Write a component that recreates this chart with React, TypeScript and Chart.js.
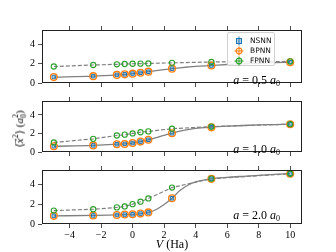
import React, { useEffect, useRef } from "react";
import { Chart, registerables } from "chart.js";
Chart.register(...registerables);

// ---- data ----
const vPoints = [-5, -2.5, -1, -0.5, 0, 0.5, 1, 2.5, 5, 10];
const vDense = [-5, -2.5, -1, -0.5, 0, 0.5, 1, 1.5, 2, 2.5, 3, 3.5, 4, 5, 6, 7, 8, 9, 10];
const xTicks = [-4, -2, 0, 2, 4, 6, 8, 10];
const yTicks = [0, 2, 4];
const panelLabels = ["0.5", "1.0", "2.0"];
const seriesNames = ["NSNN", "BPNN", "FPNN"];

// a = 0.5 a0
const nsnn05 = [0.62, 0.71, 0.84, 0.9, 0.98, 1.06, 1.17, 1.49, 1.82, 2.16];
const bpnn05 = [0.61, 0.71, 0.84, 0.9, 0.97, 1.06, 1.18, 1.49, 1.82, 2.15];
const fpnn05 = [1.71, 1.87, 1.94, 1.97, 2.0, 2.01, 2.03, 2.09, 2.18, 2.24];
const exact05 = [0.61, 0.71, 0.84, 0.9, 0.97, 1.06, 1.18, 1.29, 1.39, 1.49, 1.58, 1.66, 1.73, 1.82, 1.92, 1.99, 2.05, 2.11, 2.15];

// a = 1.0 a0
const nsnn10 = [0.62, 0.71, 0.84, 0.88, 0.97, 1.12, 1.32, 2.02, 2.67, 3.0];
const bpnn10 = [0.62, 0.71, 0.84, 0.87, 0.97, 1.12, 1.32, 2.02, 2.66, 3.0];
const fpnn10 = [1.03, 1.42, 1.78, 1.87, 2.0, 2.13, 2.22, 2.51, 2.74, 3.0];
const exact10 = [0.62, 0.71, 0.84, 0.88, 0.97, 1.12, 1.32, 1.56, 1.8, 2.02, 2.24, 2.41, 2.54, 2.68, 2.78, 2.86, 2.92, 2.96, 3.0];

// a = 2.0 a0
const nsnn20 = [0.83, 0.87, 0.92, 0.96, 0.99, 1.06, 1.18, 2.62, 4.6, 5.12];
const bpnn20 = [0.83, 0.87, 0.92, 0.96, 0.99, 1.06, 1.18, 2.62, 4.6, 5.12];
const fpnn20 = [1.37, 1.5, 1.69, 1.79, 2.02, 2.27, 2.6, 3.71, 4.62, 5.12];
const exact20 = [0.83, 0.87, 0.92, 0.96, 0.99, 1.06, 1.18, 1.48, 1.98, 2.62, 3.4, 3.95, 4.28, 4.6, 4.75, 4.86, 4.96, 5.05, 5.12];

const panels = [
  { nsnn: nsnn05, bpnn: bpnn05, fpnn: fpnn05, exact: exact05 },
  { nsnn: nsnn10, bpnn: bpnn10, fpnn: fpnn10, exact: exact10 },
  { nsnn: nsnn20, bpnn: bpnn20, fpnn: fpnn20, exact: exact20 },
];

// ---- layout ----
const W = 336;
const AREA_LEFT = 42;
const AREA_RIGHT = 302;
// [canvasTop, canvasHeight, topAxisH, bottomAxisH]
const geo = [
  [0, 92, 30, 5],
  [92, 69, 6, 6],
  [161, 91, 6, 28],
];

const BLUE = "#1f77b4";
const ORANGE = "#ff7f0e";
const GREEN = "#2ca02c";
const GREY = "#808080";
const TICK_FONT = { family: "'Liberation Serif', serif", size: 10 };

const fmt = (v: number | string) => {
  const n = Number(v);
  return n < 0 ? "\u2212" + Math.abs(n) : String(n);
};

const frame = {
  id: "frame",
  afterDraw(chart: any) {
    const { ctx, chartArea: a } = chart;
    ctx.save();
    ctx.strokeStyle = "#222";
    ctx.lineWidth = 1;
    ctx.strokeRect(Math.round(a.left) + 0.5, Math.round(a.top) + 0.5, Math.round(a.right - a.left) - 1, Math.round(a.bottom - a.top) - 1);
    ctx.restore();
  },
};

function Panel({ idx }: { idx: number }) {
  const ref = useRef<HTMLCanvasElement | null>(null);
  const [top, h, topH, botH] = geo[idx];
  useEffect(() => {
    const p = panels[idx];
    const pts = (arr: number[]) => vPoints.map((x, i) => ({ x, y: arr[i] }));
    const isBottom = idx === 2;
    const xAxis = (pos: string, showLabels: boolean, hgt: number) => ({
      type: "linear",
      position: pos,
      min: -5.75,
      max: 10.75,
      afterBuildTicks: (s: any) => {
        s.ticks = xTicks.map((v) => ({ value: v }));
      },
      afterFit: (s: any) => {
        s.height = hgt;
      },
      ticks: { display: showLabels, font: TICK_FONT, color: "#000", padding: 1, maxRotation: 0, callback: fmt },
      grid: { drawOnChartArea: false, drawTicks: true, tickLength: 4, color: "#222", lineWidth: 0.8 },
      border: { display: false },
    });
    const chart = new Chart(ref.current as HTMLCanvasElement, {
      type: "scatter",
      data: {
        datasets: [
          {
            label: "exact",
            data: vDense.map((x, i) => ({ x, y: p.exact[i] })),
            showLine: true,
            borderColor: GREY,
            borderWidth: 1.3,
            pointRadius: 0,
            cubicInterpolationMode: "monotone",
            order: 6,
          },
          {
            label: "ref",
            data: pts(p.fpnn),
            showLine: true,
            borderColor: GREY,
            borderWidth: 1.2,
            borderDash: [4, 2],
            pointRadius: 0,
            order: 5,
          },
          {
            label: seriesNames[0],
            data: pts(p.nsnn),
            pointStyle: "rect",
            pointRadius: 2.5,
            borderColor: BLUE,
            backgroundColor: "rgba(31,119,180,0.3)",
            borderWidth: 1,
            order: 3,
          },
          {
            label: seriesNames[1],
            data: pts(p.bpnn),
            pointStyle: "circle",
            pointRadius: 3.4,
            borderColor: ORANGE,
            backgroundColor: "rgba(0,0,0,0)",
            borderWidth: 1.3,
            order: 2,
          },
          {
            label: seriesNames[2],
            data: pts(p.fpnn),
            pointStyle: "circle",
            pointRadius: 2.6,
            borderColor: GREEN,
            backgroundColor: "rgba(0,0,0,0)",
            borderWidth: 1.1,
            order: 1,
          },
        ],
      },
      options: {
        animation: false,
        responsive: false,
        maintainAspectRatio: false,
        events: [],
        layout: { padding: { left: 0, right: W - AREA_RIGHT, top: 0, bottom: 0 } },
        plugins: { legend: { display: false }, tooltip: { enabled: false } },
        scales: {
          x: xAxis("bottom", isBottom, botH),
          x2: xAxis("top", false, topH),
          y: {
            type: "linear",
            min: 0,
            max: 5.5,
            afterBuildTicks: (s: any) => {
              s.ticks = yTicks.map((v) => ({ value: v }));
            },
            afterFit: (s: any) => {
              s.width = AREA_LEFT;
            },
            ticks: { font: TICK_FONT, color: "#000", padding: 3, callback: fmt },
            grid: { drawOnChartArea: false, drawTicks: true, tickLength: 4, color: "#222", lineWidth: 0.8 },
            border: { display: false },
          },
        } as any,
      } as any,
      plugins: [frame],
    } as any);
    return () => chart.destroy();
  }, [idx]);
  return (
    <canvas
      ref={ref}
      width={W}
      height={h}
      style={{ position: "absolute", left: 0, top, width: W, height: h, display: "block" }}
    />
  );
}

const serif = "'Liberation Serif', 'DejaVu Serif', serif";

function Marker({ kind, color }: { kind: string; color: string }) {
  return (
    <svg width={10} height={10} style={{ position: "absolute", left: 0, top: 0 }}>
      <line x1={5} y1={0.5} x2={5} y2={9.5} stroke={color} strokeWidth={1} />
      {kind === "rect" ? (
        <rect x={2.5} y={2.5} width={5} height={5} fill="rgba(31,119,180,0.35)" stroke={color} strokeWidth={1} />
      ) : (
        <>
          <line x1={0.5} y1={5} x2={9.5} y2={5} stroke={color} strokeWidth={1} />
          <circle cx={5} cy={5} r={2.8} fill="none" stroke={color} strokeWidth={1.2} />
        </>
      )}
    </svg>
  );
}

export default function App() {
  useEffect(() => {
    document.body.style.margin = "0";
  }, []);
  const annTop = [74, 143, 209];
  const legendItems = [
    { name: seriesNames[0], kind: "rect", color: BLUE },
    { name: seriesNames[1], kind: "circle", color: ORANGE },
    { name: seriesNames[2], kind: "circle", color: GREEN },
  ];
  return (
    <div style={{ position: "relative", width: W, height: 252, background: "#fff", overflow: "hidden" }}>
      <Panel idx={0} />
      <Panel idx={1} />
      <Panel idx={2} />
      {panelLabels.map((lab, i) => (
        <div
          key={lab}
          style={{
            position: "absolute",
            right: 56,
            top: annTop[i],
            fontFamily: serif,
            fontSize: 12,
            lineHeight: "12px",
            whiteSpace: "pre",
            color: "#000",
          }}
        >
          <i>a</i>
          {" = " + lab + " "}
          <i>a</i>
          <span style={{ fontSize: 8, position: "relative", top: 2 }}>0</span>
        </div>
      ))}
      <div
        style={{
          position: "absolute",
          left: 227,
          top: 32,
          width: 48,
          height: 34,
          boxSizing: "border-box",
          border: "1px solid #d0d0d0",
          borderRadius: 2,
          background: "rgba(255,255,255,0.85)",
        }}
      >
        {legendItems.map((it, i) => (
          <div key={it.name} style={{ position: "absolute", left: 6, top: 3 + i * 10, height: 10, width: 40 }}>
            <Marker kind={it.kind} color={it.color} />
            <span
              style={{
                position: "absolute",
                left: 16,
                top: 0,
                fontFamily: "'DejaVu Sans', sans-serif",
                fontSize: 7.5,
                lineHeight: "10px",
                color: "#111",
                whiteSpace: "nowrap",
              }}
            >
              {it.name}
            </span>
          </div>
        ))}
      </div>
      <div
        style={{
          position: "absolute",
          left: 20,
          top: 129,
          transform: "translate(-50%, -50%) rotate(-90deg)",
          fontFamily: serif,
          fontSize: 11,
          lineHeight: "12px",
          whiteSpace: "nowrap",
          color: "#000",
        }}
      >
        {"\u27E8"}
        <i>x</i>
        {"\u20D7"}
        <sup style={{ fontSize: 8 }}>2</sup>
        {"\u27E9 ("}
        <i>a</i>
        <sub style={{ fontSize: 8 }}>0</sub>
        <sup style={{ fontSize: 8, marginLeft: -4 }}>2</sup>
        {")"}
      </div>
      <div
        style={{
          position: "absolute",
          left: 172,
          top: 244,
          transform: "translate(-50%, -50%)",
          fontFamily: serif,
          fontSize: 12,
          lineHeight: "13px",
          whiteSpace: "nowrap",
          color: "#000",
        }}
      >
        <i>V</i> (Ha)
      </div>
    </div>
  );
}
